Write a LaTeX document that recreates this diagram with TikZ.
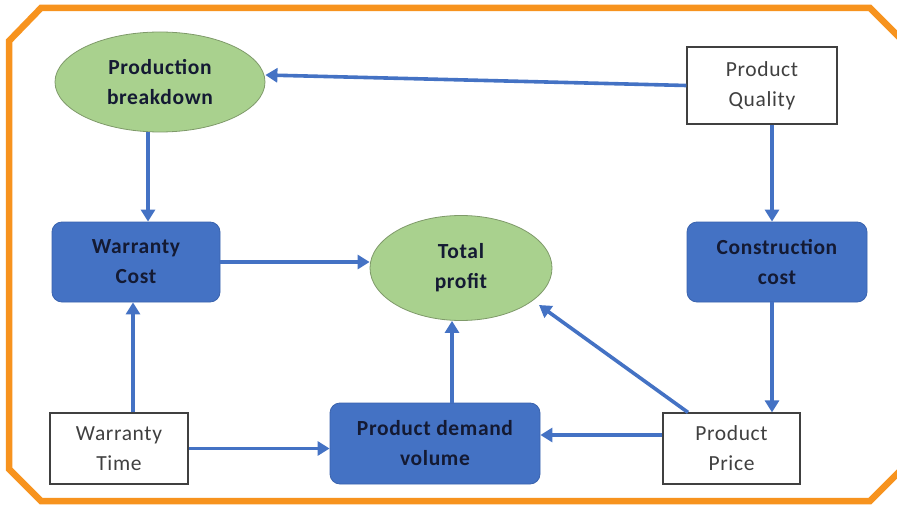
\documentclass[tikz,border=0pt]{standalone}
\usepackage{fontspec}
\setmainfont{Carlito}[LetterSpace=3]
\usetikzlibrary{shapes.geometric,arrows.meta}
\definecolor{frameor}{HTML}{F7931E}
\definecolor{bluefill}{HTML}{4472C4}
\definecolor{blueedge}{HTML}{3A63AE}
\definecolor{greenfill}{HTML}{A9D18E}
\definecolor{greenedge}{HTML}{7F9A6A}
\definecolor{arrowblue}{HTML}{4472C4}
\definecolor{boxtext}{HTML}{404040}
\definecolor{darktext}{HTML}{141A33}
\tikzset{
  oval/.style={ellipse, draw=greenedge, line width=0.8pt, fill=greenfill, align=center,
    font=\fontsize{21.5}{30}\selectfont\bfseries, text=darktext, inner sep=0pt},
  bluebox/.style={rectangle, rounded corners=10pt, draw=blueedge, line width=0.8pt, fill=bluefill,
    align=center, font=\fontsize{21.5}{30}\selectfont\bfseries, text=darktext, inner sep=0pt},
  whitebox/.style={rectangle, draw=black!75, line width=1.2pt, fill=white, align=center,
    font=\fontsize{21.5}{30}\selectfont, text=boxtext, inner sep=0pt},
  conn/.style={draw=arrowblue, line width=3.6pt, -{Triangle[length=12pt,width=14pt]}},
}
\begin{document}
\begin{tikzpicture}[x=1pt,y=-1pt]
\useasboundingbox (0,0) rectangle (897,508);
\fill[white] (0,0) rectangle (897,508);
\draw[frameor, line width=6.5pt, line join=miter]
  (41,8) -- (870,8) -- (903,41) -- (903,468) -- (870,501) -- (41,501) -- (9,469) -- (9,41) -- cycle;

\node[oval, minimum width=210pt, minimum height=100pt] (pb) at (160,82) {Production\\breakdown};
\node[whitebox, minimum width=150pt, minimum height=77pt] (pq) at (762,85.5) {Product\\Quality};
\node[bluebox, minimum width=168pt, minimum height=80pt] (wc) at (136,262) {Warranty\\Cost};
\node[oval, minimum width=182pt, minimum height=105pt] (tp) at (461,268) {Total\\profit};
\node[bluebox, minimum width=180pt, minimum height=80pt] (cc) at (777,262) {Construction\\cost};
\node[whitebox, minimum width=138pt, minimum height=71pt] (wt) at (119,448.5) {Warranty\\Time};
\node[bluebox, minimum width=210pt, minimum height=81pt] (pd) at (435,443.5) {Product demand\\volume};
\node[whitebox, minimum width=137pt, minimum height=71pt] (pp) at (731.5,448.5) {Product\\Price};

\coordinate (tpin) at (539,305);
\draw[conn] (pq.west) -- (pb.east |- 0,75);
\draw[conn] (pb.south -| 148,0) -- (wc.north -| 148,0);
\draw[conn] (pq.south -| 772,0) -- (cc.north -| 772,0);
\draw[conn] (wc.east) -- (tp.west |- wc.east);
\draw[conn] (cc.south -| 772,0) -- (pp.north -| 772,0);
\draw[conn] (wt.north -| 133,0) -- (wc.south -| 133,0);
\draw[conn] (wt.east) -- (pd.west |- wt.east);
\draw[conn] (pd.north -| 452,0) -- (tp.south -| 452,0);
\draw[conn] (pp.west |- 0,435) -- (pd.east |- 0,435);
\draw[conn] (pp.north -| 688,0) -- (tpin);
\end{tikzpicture}
\end{document}
